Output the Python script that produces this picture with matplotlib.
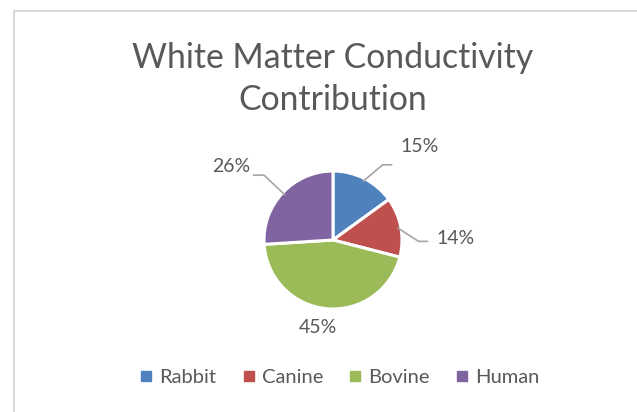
import matplotlib.pyplot as plt
import numpy as np
from matplotlib.lines import Line2D

# data
labels = ['Rabbit', 'Canine', 'Bovine', 'Human']
shares = [15, 14, 45, 26]
colors = ['#4f81bd', '#c0504d', '#9bbb59', '#8064a2']
title = 'White Matter Conductivity\nContribution'

plt.rcParams['font.family'] = ['Lato', 'DejaVu Sans']
grey = '#595959'

W, H = 637, 412
fig = plt.figure(figsize=(W / 100, H / 100), dpi=100)

# chart border
fig.patches.append(plt.Rectangle((14 / W, -0.1), 1.2, 1 - 10.5 / H + 0.1,
                                 transform=fig.transFigure, fill=False,
                                 edgecolor='#d9d9d9', linewidth=1.5))

# pie axes: center (333, 240) px, radius 69 px
cx, cy, r = 333, 240, 69
ax = fig.add_axes([(cx - r) / W, (H - cy - r) / H, 2 * r / W, 2 * r / H])
wedges, _ = ax.pie(shares, colors=colors, startangle=90, counterclock=False,
                   wedgeprops=dict(edgecolor='white', linewidth=2.2))
ax.set_xlim(-1, 1)
ax.set_ylim(-1, 1)
ax.set_aspect('equal')
ax.axis('off')

# label placement (label point, elbow point, leader start radius)
label_pos = [(1.26, 1.35), (1.77, 0.02), (-0.22, -1.27), (-1.47, 1.06)]
elbows = [(0.72, 1.09), (1.24, -0.02), None, (-1.0, 0.94)]
leader_len = [0.14, 0.14, 0, 0.16]

cum = np.cumsum([0] + shares[:-1])
total = sum(shares)
for i, s in enumerate(shares):
    mid = np.deg2rad(90 - (cum[i] + s / 2) / total * 360)
    tx, ty = label_pos[i]
    ax.text(tx, ty, f'{s}%', ha='center', va='center', fontsize=14,
            color=grey, clip_on=False)
    if elbows[i] is not None:
        sx, sy = 0.95 * np.cos(mid), 0.95 * np.sin(mid)
        ex, ey = elbows[i]
        hx = ex + np.sign(tx) * leader_len[i]
        ax.plot([sx, ex, hx], [sy, ey, ey], color='#a6a6a6', lw=1.2,
                clip_on=False, solid_capstyle='butt')

fig.text(cx / W, 1 - 79 / H, title, ha='center', va='center', fontsize=24.3,
         color=grey, linespacing=1.4)

handles = [Line2D([], [], marker='s', linestyle='', markersize=7.5,
                  markerfacecolor=c, markeredgecolor=c) for c in colors]
fig.legend(handles, labels, loc='center', bbox_to_anchor=(338 / W, 1 - 377 / H),
           ncol=4, frameon=False, fontsize=14.5, labelcolor=grey,
           handletextpad=0.15, columnspacing=1.1, handlelength=1.0)

fig.savefig('out.png', dpi=100)
